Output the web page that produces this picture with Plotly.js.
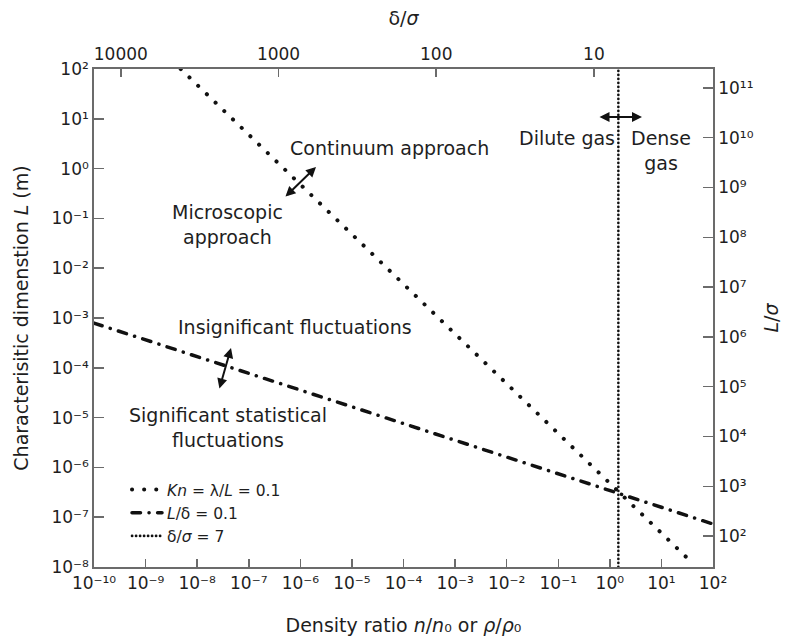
<!DOCTYPE html>
<html>
<head>
<meta charset="utf-8">
<script src="https://cdn.plot.ly/plotly-3.0.1.min.js"></script>
<style>
html,body{margin:0;padding:0;background:#fff;}
#chart{width:788px;height:641px;}
path.js-line{stroke-linecap:round;}
</style>
</head>
<body>
<div id="chart"></div>
<script>
// ---- data ----
// Kn = λ/L = 0.1 (continuum / microscopic boundary)
const knX = [4.8e-9, 40];
const knY = [100, 1.2e-8];
// L/δ = 0.1 (statistical fluctuation boundary)
const ldX = [1e-10, 100];
const ldY = [7.9e-4, 7.3e-8];
// δ/σ = 7 (dilute / dense gas boundary), x on the top δ/σ axis
const dsX = [7, 7];
const dsY = [1e-8, 1e2];

// tick exponents / labels
const xExp = [-10, -9, -8, -7, -6, -5, -4, -3, -2, -1, 0, 1, 2];
const yExp = [-8, -7, -6, -5, -4, -3, -2, -1, 0, 1, 2];
const y2Exp = [2, 3, 4, 5, 6, 7, 8, 9, 10, 11];
const topTicks = [10000, 1000, 100, 10];
const topLabels = ['10000', '1000', '100', '10'];

const legendNames = ['<i>Kn</i> = λ/<i>L</i> = 0.1', '<i>L</i>/δ = 0.1', 'δ/<i>σ</i> = 7'];

const SUP = {'0': '⁰', '1': '¹', '2': '²', '3': '³', '4': '⁴', '5': '⁵', '6': '⁶', '7': '⁷', '8': '⁸', '9': '⁹', '-': '⁻'};
function pow10Label(e) {
  return '10' + String(e).split('').map(c => SUP[c]).join('');
}

const FONT = 'DejaVu Sans, Verdana, sans-serif';
const AX = '#6b6b6b';
const TXT = '#1e1e1e';

const traces = [
  {x: knX, y: knY, mode: 'lines', name: legendNames[0], xaxis: 'x', yaxis: 'y',
   line: {color: '#111', width: 4, dash: '0.1px,12px'}},
  {x: ldX, y: ldY, mode: 'lines', name: legendNames[1], xaxis: 'x', yaxis: 'y',
   line: {color: '#111', width: 3.5, dash: '8.5px,8.5px,0.1px,8.5px'}},
  {x: dsX, y: dsY, mode: 'lines', name: legendNames[2], xaxis: 'x2', yaxis: 'y',
   line: {color: '#111', width: 2.6, dash: '0.2px,3.8px'}},
  {x: [null], y: [null], mode: 'lines', xaxis: 'x', yaxis: 'y2', showlegend: false, hoverinfo: 'skip'}
];

const axBase = {
  type: 'log', showgrid: false, zeroline: false, showline: true,
  linecolor: AX, linewidth: 1.8, ticks: 'inside', tickcolor: AX, tickwidth: 1.5,
  tickfont: {family: FONT, size: 17, color: TXT}
};

// pixel -> paper helpers for annotation placement
const L = 94, R = 713, T = 69, B = 567;
const px = v => (v - L) / (R - L);
const py = v => (B - v) / (B - T);

const annFont = {family: FONT, size: 19, color: TXT};
function label(text, x, y) {
  return {text: text, x: px(x), y: py(y), xref: 'paper', yref: 'paper', showarrow: false,
          xanchor: 'center', yanchor: 'middle', font: annFont, align: 'center'};
}
function arrow(hx, hy, tx, ty) {
  return {text: '', x: px(hx), y: py(hy), xref: 'paper', yref: 'paper', showarrow: true,
          ax: tx - hx, ay: ty - hy, arrowhead: 2, startarrowhead: 2, arrowside: 'end+start',
          arrowsize: 1, startarrowsize: 1, arrowwidth: 2, arrowcolor: '#111', standoff: 0, startstandoff: 0};
}

const titleFont = {family: FONT, size: 19, color: TXT};

const layout = {
  width: 788, height: 641,
  margin: {l: L, r: 788 - R, t: T, b: 641 - B, pad: 0},
  paper_bgcolor: '#fff', plot_bgcolor: '#fff',
  font: {family: FONT, color: TXT},
  showlegend: true,
  legend: {x: px(127), y: py(473), xanchor: 'left', yanchor: 'top', bgcolor: 'rgba(0,0,0,0)',
           font: {family: FONT, size: 15.5, color: TXT}, itemwidth: 30, tracegroupgap: 0},
  xaxis: Object.assign({}, axBase, {
    range: [-10, 2], ticklen: 8,
    tickvals: xExp.map(e => Math.pow(10, e)), ticktext: xExp.map(pow10Label),
    title: {text: 'Density ratio <i>n</i>/<i>n</i>₀ or <i>ρ</i>/<i>ρ</i>₀',
            font: titleFont, standoff: 26}
  }),
  xaxis2: Object.assign({}, axBase, {
    overlaying: 'x', side: 'top', anchor: 'y', range: [4.17, 0.245], ticklen: 8,
    tickvals: topTicks, ticktext: topLabels,
    title: {text: 'δ/<i>σ</i>', font: titleFont, standoff: 14}
  }),
  yaxis: Object.assign({}, axBase, {
    range: [-8, 2], ticklen: 10,
    tickvals: yExp.map(e => Math.pow(10, e)), ticktext: yExp.map(pow10Label),
    title: {text: 'Characterisitic dimenstion <i>L</i> (m)', font: titleFont, standoff: 18}
  }),
  yaxis2: Object.assign({}, axBase, {
    overlaying: 'y', side: 'right', anchor: 'x', range: [1.38, 11.38], ticklen: 10,
    tickvals: y2Exp.map(e => Math.pow(10, e)), ticktext: y2Exp.map(pow10Label),
    title: {text: '<i>L</i>/<i>σ</i>', font: titleFont, standoff: 12}
  }),
  annotations: [
    label('Continuum approach', 389, 148),
    label('Microscopic<br>approach', 227, 224),
    label('Insignificant fluctuations', 295, 327),
    label('Significant statistical<br>fluctuations', 228, 427),
    label('Dilute gas', 567, 138),
    label('Dense<br>gas', 661, 150),
    arrow(316, 167, 284, 198),
    arrow(231, 348, 219, 390),
    arrow(642, 117, 598, 117)
  ]
};

Plotly.newPlot('chart', traces, layout, {displayModeBar: false, staticPlot: true});
</script>
</body>
</html>
